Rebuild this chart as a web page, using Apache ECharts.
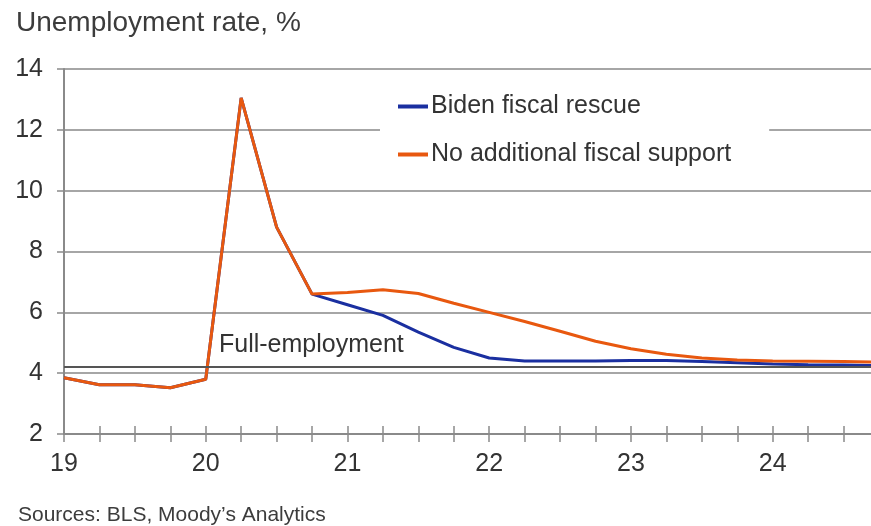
<!DOCTYPE html>
<html>
<head>
<meta charset="utf-8">
<script src="https://cdn.jsdelivr.net/npm/echarts@6/dist/echarts.min.js"></script>
<style>
  html, body { margin: 0; padding: 0; background: #fff; }
  #chart { width: 871px; height: 526px; }
</style>
</head>
<body>
<div id="chart"></div>
<script>
// quarters, written as year fractions (19 = 2019 Q1)
var quarters = [19, 19.25, 19.5, 19.75, 20, 20.25, 20.5, 20.75,
                21, 21.25, 21.5, 21.75, 22, 22.25, 22.5, 22.75,
                23, 23.25, 23.5, 23.75, 24, 24.25, 24.5, 24.75];

// unemployment rate, %
var biden = [3.85, 3.62, 3.62, 3.52, 3.8, 13.05, 8.8, 6.6,
             6.25, 5.9, 5.35, 4.85, 4.5, 4.4, 4.4, 4.4,
             4.42, 4.42, 4.38, 4.34, 4.3, 4.28, 4.27, 4.25];
var noSupport = [3.85, 3.62, 3.62, 3.52, 3.8, 13.05, 8.8, 6.6,
                 6.65, 6.74, 6.62, 6.3, 6.0, 5.7, 5.38, 5.05,
                 4.8, 4.62, 4.5, 4.43, 4.4, 4.39, 4.38, 4.36];

var fullEmployment = 4.2;
var seriesNames = ['Biden fiscal rescue', 'No additional fiscal support'];

function pairs(vals) {
    return quarters.map(function (q, i) { return [q, vals[i]]; });
}

var font = 'Liberation Sans, Arial, sans-serif';

var option = {
    animation: false,
    textStyle: { fontFamily: font },
    title: [{
        text: 'Unemployment rate, %',
        left: 11, top: 4,
        textStyle: { fontSize: 28, fontWeight: 'normal', color: '#3c3c3c' }
    }, {
        text: 'Sources: BLS, Moody\u2019s Analytics',
        left: 13, top: 500,
        textStyle: { fontSize: 21, fontWeight: 'normal', color: '#3c3c3c' }
    }],
    legend: {
        data: seriesNames,
        orient: 'vertical',
        left: 380, top: 88,
        padding: [6, 38, 6, 18],
        itemGap: 23,
        backgroundColor: '#fff',
        icon: 'rect',
        itemWidth: 30, itemHeight: 4,
        textStyle: { fontSize: 25, color: '#333', padding: [0, 0, 0, -2] }
    },
    grid: { left: 64, right: -8, top: 69, bottom: 92, outerBoundsMode: 'none' },
    xAxis: [{
        type: 'value',
        min: 19, max: 24.75, interval: 0.25,
        axisLine: { lineStyle: { color: '#8a8a8a', width: 2 } },
        axisTick: { show: true, length: 8, lineStyle: { color: '#8a8a8a', width: 1.5 } },
        splitLine: { show: false },
        axisLabel: {
            fontSize: 25, color: '#333', margin: 18,
            formatter: function (v) { return Number.isInteger(v) ? String(v) : ''; }
        }
    }, {
        type: 'value', position: 'bottom',
        min: 19, max: 24.75, interval: 0.25,
        axisLine: { show: false },
        axisTick: { show: true, inside: true, length: 8, lineStyle: { color: '#8a8a8a', width: 1.5 } },
        axisLabel: { show: false },
        splitLine: { show: false }
    }],
    yAxis: {
        type: 'value',
        min: 2, max: 14, interval: 2,
        axisLine: { show: true, lineStyle: { color: '#8a8a8a', width: 2 } },
        axisTick: { show: true, length: 7, lineStyle: { color: '#8a8a8a', width: 1.5 } },
        axisLabel: { fontSize: 25, color: '#333', margin: 21 },
        splitLine: { lineStyle: { color: '#a6a6a6', width: 2 } }
    },
    graphic: [{
        type: 'text',
        left: 219, top: 333,
        style: { text: 'Full-employment', fontSize: 25, fill: '#333', fontFamily: font }
    }],
    series: [{
        name: seriesNames[0],
        type: 'line',
        data: pairs(biden),
        showSymbol: false,
        lineStyle: { color: '#1a2fa0', width: 3 },
        itemStyle: { color: '#1a2fa0' },
        markLine: {
            silent: true, symbol: 'none',
            label: { show: false },
            lineStyle: { color: '#555', width: 2, type: 'solid' },
            data: [{ yAxis: fullEmployment }]
        }
    }, {
        name: seriesNames[1],
        type: 'line',
        data: pairs(noSupport),
        showSymbol: false,
        lineStyle: { color: '#e8580f', width: 3 },
        itemStyle: { color: '#e8580f' }
    }]
};

var chart = echarts.init(document.getElementById('chart'));
chart.setOption(option);
</script>
</body>
</html>
